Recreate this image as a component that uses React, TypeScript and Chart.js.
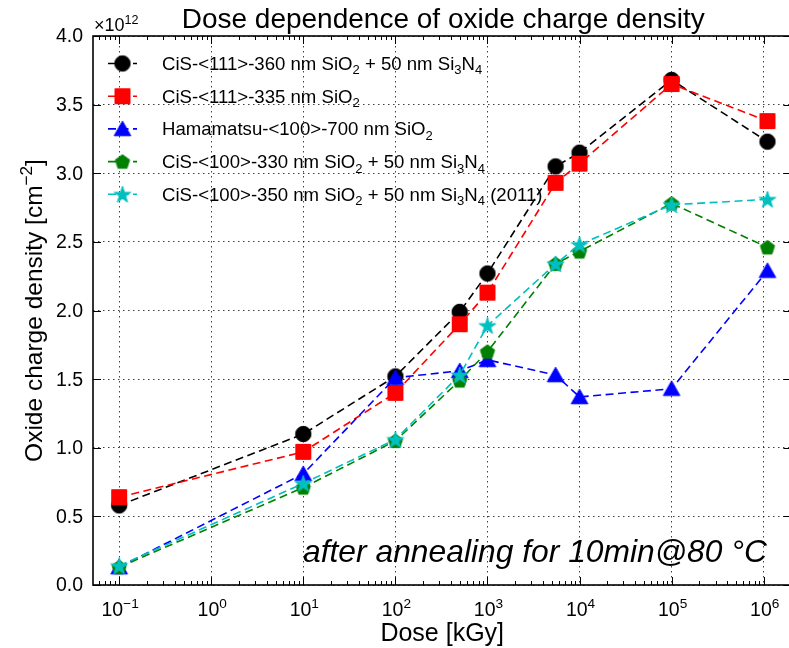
import React, { useEffect, useRef } from "react";
import { Chart, registerables } from "chart.js";

Chart.register(...registerables);

// ---------- data ----------
const doses = [0.1, 10, 100, 500, 1000, 5500, 10000, 100000, 1100000];
const cis111Nitride = [0.58, 1.1, 1.52, 1.99, 2.27, 3.05, 3.15, 3.68, 3.23];
const cis111Oxide = [0.64, 0.97, 1.4, 1.9, 2.13, 2.93, 3.07, 3.65, 3.38];
const hamamatsu100 = [0.13, 0.81, 1.51, 1.56, 1.64, 1.53, 1.37, 1.43, 2.29];
const cis100Nitride = [0.13, 0.71, 1.05, 1.49, 1.7, 2.34, 2.43, 2.78, 2.46];
const cis100Nitride2011 = [0.14, 0.74, 1.06, 1.53, 1.89, 2.34, 2.48, 2.77, 2.81];

const seriesValues = [cis111Nitride, cis111Oxide, hamamatsu100, cis100Nitride, cis100Nitride2011];
const seriesColors = ["#000000", "#ff0000", "#0000ff", "#008000", "#00bfbf"];
const seriesMarkers = ["circle", "square", "triangle", "pentagon", "star"];

type Piece = [string, number]; // 0 normal, -1 subscript, 1 superscript
const seriesLabels: Piece[][] = [
  [["CiS-<111>-360 nm SiO", 0], ["2", -1], [" + 50 nm Si", 0], ["3", -1], ["N", 0], ["4", -1]],
  [["CiS-<111>-335 nm SiO", 0], ["2", -1]],
  [["Hamamatsu-<100>-700 nm SiO", 0], ["2", -1]],
  [["CiS-<100>-330 nm SiO", 0], ["2", -1], [" + 50 nm Si", 0], ["3", -1], ["N", 0], ["4", -1]],
  [["CiS-<100>-350 nm SiO", 0], ["2", -1], [" + 50 nm Si", 0], ["3", -1], ["N", 0], ["4", -1], [" (2011)", 0]],
];

const xTickExponents = [-1, 0, 1, 2, 3, 4, 5, 6];
const yTickValues = [0, 0.5, 1, 1.5, 2, 2.5, 3, 3.5, 4];
const yTickLabels = ["0.0", "0.5", "1.0", "1.5", "2.0", "2.5", "3.0", "3.5", "4.0"];

const titleText = "Dose dependence of oxide charge density";
const xTitle = "Dose [kGy]";
const yTitle: Piece[] = [["Oxide charge density [cm", 0], ["\u22122", 1], ["]", 0]];
const offsetText: Piece[] = [["\u00d710", 0], ["12", 1]];
const annotation = "after annealing for 10min@80 \u00b0C";

const FONT = '"Liberation Sans", Arial, sans-serif';

// ---------- markers ----------
function makeMarker(kind: string, color: string): HTMLCanvasElement {
  const s = 22;
  const c = document.createElement("canvas");
  c.width = s;
  c.height = s;
  const g = c.getContext("2d")!;
  const cx = s / 2, cy = s / 2;
  g.fillStyle = color;
  g.strokeStyle = color;
  g.lineWidth = 1;
  g.beginPath();
  if (kind === "circle") {
    g.arc(cx, cy, 7.7, 0, Math.PI * 2);
  } else if (kind === "square") {
    g.rect(cx - 7.5, cy - 7.5, 15, 15);
  } else if (kind === "triangle") {
    g.moveTo(cx, cy - 7.8);
    g.lineTo(cx + 8.3, cy + 6.8);
    g.lineTo(cx - 8.3, cy + 6.8);
    g.closePath();
  } else if (kind === "pentagon") {
    const r = 7.5;
    for (let i = 0; i < 5; i++) {
      const a = -Math.PI / 2 + (i * 2 * Math.PI) / 5;
      const px = cx + r * Math.cos(a), py = cy + 0.6 + r * Math.sin(a);
      if (i === 0) g.moveTo(px, py); else g.lineTo(px, py);
    }
    g.closePath();
  } else {
    const R = 8.8, r = R * 0.382;
    for (let i = 0; i < 10; i++) {
      const a = -Math.PI / 2 + (i * Math.PI) / 5;
      const rr = i % 2 === 0 ? R : r;
      const px = cx + rr * Math.cos(a), py = cy + 0.8 + rr * Math.sin(a);
      if (i === 0) g.moveTo(px, py); else g.lineTo(px, py);
    }
    g.closePath();
  }
  g.fill();
  g.stroke();
  return c;
}

// ---------- rich text ----------
function richWidth(ctx: CanvasRenderingContext2D, pieces: Piece[], size: number, style = "") {
  let w = 0;
  for (const [t, k] of pieces) {
    ctx.font = `${style}${k === 0 ? size : size * 0.7}px ${FONT}`;
    w += ctx.measureText(t).width;
  }
  return w;
}
function drawRich(ctx: CanvasRenderingContext2D, pieces: Piece[], x: number, y: number, size: number, style = "") {
  let cx = x;
  ctx.textBaseline = "alphabetic";
  ctx.textAlign = "left";
  for (const [t, k] of pieces) {
    const fs = k === 0 ? size : size * 0.7;
    ctx.font = `${style}${fs}px ${FONT}`;
    const dy = k === 0 ? 0 : k < 0 ? size * 0.24 : -size * 0.4;
    ctx.fillText(t, cx, y + dy);
    cx += ctx.measureText(t).width;
  }
}

const decorPlugin = {
  id: "decor",
  afterDraw(chart: any) {
    const ctx: CanvasRenderingContext2D = chart.ctx;
    const { left, right, top, bottom } = chart.chartArea;
    const xs = chart.scales.x, ys = chart.scales.y;
    ctx.save();
    ctx.fillStyle = "#000";
    ctx.strokeStyle = "#000";
    // ticks
    ctx.lineWidth = 1;
    ctx.beginPath();
    for (let e = -2; e <= 6; e++) {
      for (let m = 1; m <= 9; m++) {
        const v = m * Math.pow(10, e);
        if (v < xs.min || v > xs.max) continue;
        const px = Math.round(xs.getPixelForValue(v)) + 0.5;
        const len = m === 1 ? 8 : 4;
        ctx.moveTo(px, bottom);
        ctx.lineTo(px, bottom - len);
        ctx.moveTo(px, top);
        ctx.lineTo(px, top + len);
      }
    }
    for (const v of yTickValues) {
      const py = Math.round(ys.getPixelForValue(v)) + 0.5;
      ctx.moveTo(left, py);
      ctx.lineTo(left + 8, py);
      ctx.moveTo(right, py);
      ctx.lineTo(right - 8, py);
    }
    ctx.stroke();
    // border
    ctx.lineWidth = 1.6;
    ctx.strokeRect(left, top, right - left, bottom - top);

    // y tick labels
    ctx.font = `19.5px ${FONT}`;
    ctx.textAlign = "right";
    ctx.textBaseline = "middle";
    yTickValues.forEach((v, i) => {
      ctx.fillText(yTickLabels[i], left - 10, ys.getPixelForValue(v) + 1);
    });
    // x tick labels
    for (const e of xTickExponents) {
      const px = xs.getPixelForValue(Math.pow(10, e));
      const pieces: Piece[] = [["10", 0], [e < 0 ? "\u2212" + -e : String(e), 1]];
      const w = richWidth(ctx, pieces, 19.5);
      drawRich(ctx, pieces, px - w / 2 + 1, 616, 19.5);
    }
    // title
    ctx.font = `28px ${FONT}`;
    ctx.textAlign = "center";
    ctx.textBaseline = "alphabetic";
    ctx.fillText(titleText, (left + right) / 2 + 1, 28);
    // x title
    ctx.font = `25px ${FONT}`;
    ctx.fillText(xTitle, (left + right) / 2, 641);
    // y title
    ctx.save();
    ctx.translate(42, (top + bottom) / 2);
    ctx.rotate(-Math.PI / 2);
    const yw = richWidth(ctx, yTitle, 24.5);
    drawRich(ctx, yTitle, -yw / 2, 0, 24.5);
    ctx.restore();
    // offset text
    drawRich(ctx, offsetText, left + 1, 31, 18);
    // annotation
    ctx.font = `italic 31.8px ${FONT}`;
    ctx.textAlign = "left";
    ctx.fillText(annotation, 303, 562);

    // legend
    const rowY0 = 63.5, rowDy = 32.7;
    seriesLabels.forEach((pieces, i) => {
      const y = rowY0 + i * rowDy;
      ctx.save();
      ctx.strokeStyle = seriesColors[i];
      ctx.lineWidth = 1.6;
      ctx.setLineDash([8, 4.5]);
      ctx.beginPath();
      ctx.moveTo(108, y);
      ctx.lineTo(137, y);
      ctx.stroke();
      ctx.restore();
      const mk = chart.data.datasets[i].pointStyle as HTMLCanvasElement;
      ctx.drawImage(mk, 122.5 - mk.width / 2, y - mk.height / 2);
      ctx.fillStyle = "#000";
      drawRich(ctx, pieces, 162, y + 6.5, 18.6);
    });
    ctx.restore();
  },
};

export default function App() {
  const ref = useRef<HTMLCanvasElement | null>(null);
  useEffect(() => {
    if (!ref.current) return;
    const datasets = seriesValues.map((vals, i) => ({
      label: seriesLabels[i].map((p) => p[0]).join(""),
      data: doses.map((d, j) => ({ x: d, y: vals[j] })),
      borderColor: seriesColors[i],
      backgroundColor: seriesColors[i],
      borderWidth: 1.6,
      borderDash: [8, 4.5],
      pointStyle: makeMarker(seriesMarkers[i], seriesColors[i]),
      pointRadius: 7,
      pointHoverRadius: 7,
      fill: false,
      tension: 0,
      order: seriesValues.length - 1 - i,
      clip: false as any,
    }));
    const chart = new Chart(ref.current, {
      type: "line",
      data: { datasets },
      options: {
        responsive: false,
        animation: false,
        events: [],
        layout: { padding: { left: 93, top: 36, right: 5, bottom: 63 } },
        plugins: { legend: { display: false }, tooltip: { enabled: false }, title: { display: false } },
        scales: {
          x: {
            type: "logarithmic",
            min: 0.052,
            max: 2e6,
            ticks: { display: false },
            grid: { drawTicks: false, color: "rgba(0,0,0,0.75)", lineWidth: 1 },
            border: { display: false, dash: [1.5, 3.5] },
            afterBuildTicks: (scale: any) => {
              scale.ticks = xTickExponents.map((e) => ({ value: Math.pow(10, e) }));
            },
          },
          y: {
            type: "linear",
            min: 0,
            max: 4,
            ticks: { display: false, stepSize: 0.5 },
            grid: { drawTicks: false, color: "rgba(0,0,0,0.75)", lineWidth: 1 },
            border: { display: false, dash: [1.5, 3.5] },
          },
        },
      },
      plugins: [decorPlugin],
    });
    return () => chart.destroy();
  }, []);
  return (
    <div style={{ position: "fixed", left: 0, top: 0, width: 789, height: 648, overflow: "hidden", background: "#fff" }}>
      <canvas ref={ref} width={800} height={648} style={{ display: "block", width: 800, height: 648 }} />
    </div>
  );
}
